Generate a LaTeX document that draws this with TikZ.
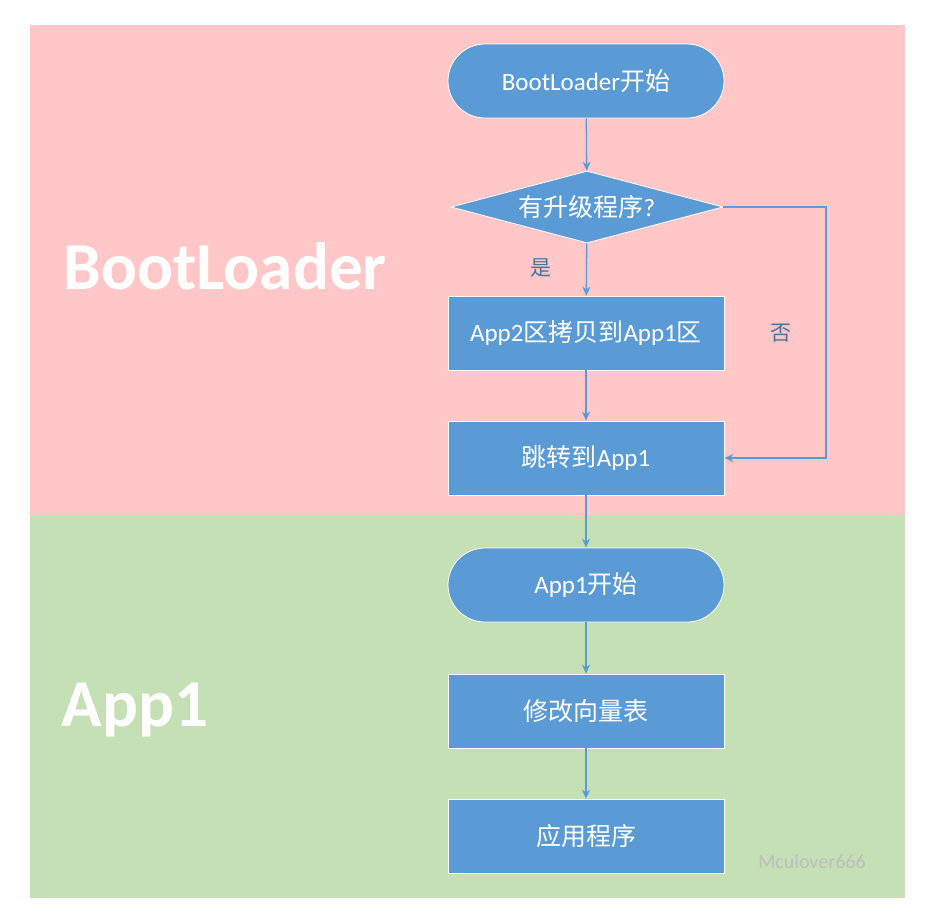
\documentclass[tikz,border=0pt]{standalone}
\usepackage{fontspec}
\setmainfont{Carlito}
\newfontfamily\cjk{Noto Sans CJK SC}
\usetikzlibrary{shapes.geometric,arrows.meta}
\definecolor{bblue}{HTML}{5B9BD5}
\definecolor{pinkbg}{HTML}{FFC7C7}
\definecolor{greenbg}{HTML}{C5E0B4}
\begin{document}
\begin{tikzpicture}[x=1pt,y=-1pt,
  base/.style={fill=bblue,draw=white,line width=0.8pt,text=white,font=\fontsize{25}{28}\selectfont,minimum width=276pt,minimum height=74pt,inner sep=0pt},
  term/.style={base,rounded corners=37pt},
  proc/.style={base},
  dec/.style={base,diamond,aspect=3.86,minimum width=272pt,minimum height=72pt},
  arr/.style={draw=bblue,line width=1.3pt,-{Stealth[length=9pt,width=8pt]}},
  lab/.style={text=bblue!75!black,font=\cjk\fontsize{21}{23}\selectfont},
  big/.style={text=white,font=\bfseries\fontsize{67}{70}\selectfont}]
\useasboundingbox (0,0) rectangle (925,919);
\fill[white] (0,0) rectangle (925,919);
\fill[pinkbg] (30,25) rectangle (905,515);
\fill[greenbg] (30,515) rectangle (905,898);
\node[big] (bl) at (225,266) {BootLoader};
\node[big] (a1) at (135,710) {App1};
\node[term] (s) at (586,81) {BootLoader{\cjk 开始}};
\node[dec] (d) at (587,207) {{\cjk 有升级程序}?};
\node[proc] (c) at (586,333) {App2{\cjk 区拷贝到}App1{\cjk 区}};
\node[proc] (j) at (586,458) {{\cjk 跳转到}App1};
\node[term] (s2) at (586,585) {App1{\cjk 开始}};
\node[proc] (m) at (586,711) {{\cjk 修改向量表}};
\node[proc] (p) at (586,836) {{\cjk 应用程序}};
\draw[arr] (s) -- (d);
\draw[arr] (d) -- (c);
\draw[arr] (c) -- (j);
\draw[arr] (j) -- (s2);
\draw[arr] (s2) -- (m);
\draw[arr] (m) -- (p);
\coordinate (r1) at (826,207);
\coordinate (r2) at (826,458);
\draw[arr] (d.east) -- (r1) -- (r2) -- (j.east);
\node[lab] (yes) at (541,268) {是};
\node[lab] (no) at (781,333) {否};
\node[text=gray!50,font=\fontsize{20}{22}\selectfont] (wm) at (812,862) {Mculover666};
\end{tikzpicture}
\end{document}
